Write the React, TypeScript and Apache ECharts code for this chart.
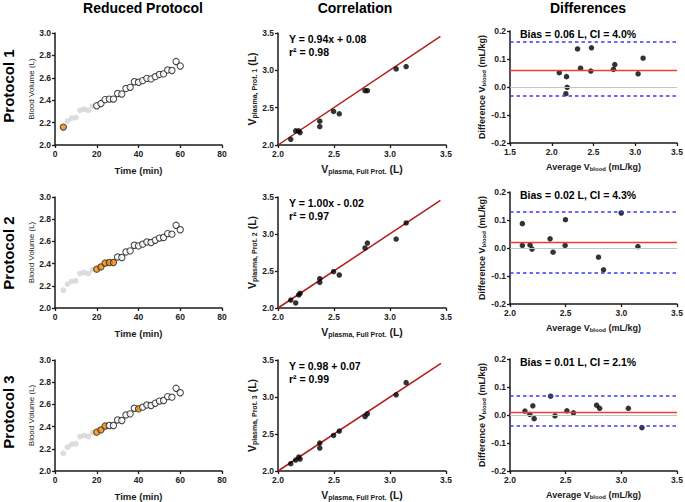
import React, { useEffect, useRef } from "react";
import * as echarts from "echarts";

// ---------- data ----------
const times = [4, 6, 8, 10, 12, 14, 16, 18, 20, 22, 24, 26, 28, 30, 32, 34, 36, 38, 40, 42, 44, 46, 48, 50, 52, 54, 56, 58, 60];
const bloodVolume = [2.16, 2.215, 2.24, 2.245, 2.31, 2.32, 2.31, 2.345, 2.35, 2.37, 2.405, 2.41, 2.41, 2.46, 2.455, 2.505, 2.515, 2.565, 2.56, 2.575, 2.595, 2.59, 2.61, 2.63, 2.635, 2.67, 2.665, 2.745, 2.705];
const steadyStateStart = 20;
const selectedTimesP1 = [4];
const selectedTimesP2 = [20, 22, 24, 26, 28];
const selectedTimesP3 = [20, 22, 24, 40];

const fullProtVolume = [2.114, 2.158, 2.185, 2.197, 2.373, 2.373, 2.496, 2.547, 2.777, 2.798, 3.055, 3.144];
const prot1Volume = [2.076, 2.189, 2.189, 2.166, 2.319, 2.247, 2.449, 2.418, 2.727, 2.727, 3.019, 3.051];
const prot2Volume = [2.108, 2.068, 2.176, 2.198, 2.396, 2.347, 2.491, 2.446, 2.811, 2.878, 2.932, 3.149];
const prot3Volume = [2.099, 2.148, 2.189, 2.162, 2.377, 2.31, 2.48, 2.539, 2.736, 2.772, 3.03, 3.194];
const fitLineP1 = [[2.0, 2.0], [3.45, 3.455]];
const fitLineP2 = [[2.0, 2.0], [3.45, 3.455]];
const fitLineP3 = [[2.0, 2.0], [3.455, 3.455]];
const eqLabels = ["Y = 0.94x + 0.08", "Y = 1.00x - 0.02", "Y = 0.98 + 0.07"];
const r2Labels = ["r\u00b2 = 0.98", "r\u00b2 = 0.97", "r\u00b2 = 0.99"];

const baAvgP1 = [2.09, 2.177, 2.185, 2.169, 2.309, 2.345, 2.476, 2.468, 2.739, 2.755, 3.034, 3.094];
const baDiffP1 = [0.051, 0.037, -0.001, -0.024, 0.136, 0.067, 0.14, 0.057, 0.063, 0.08, 0.047, 0.103];
const baAvgP2 = [2.111, 2.111, 2.18, 2.198, 2.36, 2.387, 2.498, 2.495, 2.795, 2.84, 2.999, 3.149];
const baDiffP2 = [0.087, 0.009, 0.011, -0.004, 0.033, -0.015, 0.101, 0.009, -0.033, -0.078, 0.125, 0.005];
const baAvgP3 = [2.134, 2.178, 2.205, 2.217, 2.365, 2.404, 2.511, 2.57, 2.778, 2.805, 3.063, 3.185];
const baDiffP3 = [0.014, 0.002, 0.033, -0.013, 0.067, -0.003, 0.015, 0.008, 0.035, 0.024, 0.024, -0.045];
const biasValues = [0.063, 0.022, 0.015];
const upperLimits = [0.157, 0.134, 0.067];
const lowerLimits = [-0.032, -0.093, -0.042];
const biasLabels = ["Bias = 0.06 L, CI = 4.0%", "Bias = 0.02 L, CI = 4.3%", "Bias = 0.01 L, CI = 2.1%"];

const columnTitles = ["Reduced Protocol", "Correlation", "Differences"];
const rowTitles = ["Protocol 1", "Protocol 2", "Protocol 3"];
const protLabels = ["Prot. 1", "Prot. 2", "Prot. 3"];

// ---------- layout / style ----------
const FONT = '"Liberation Sans", Arial, Helvetica, sans-serif';
const INK = "#1a1a1a";
const rowTops = [33, 197, 360];
const rowHeights = [112, 111, 111];
const baRowTops = [31, 192, 359];
const baRowHeights = [112, 112, 112];
const baXMin = [1.5, 2.0, 2.0];
const rowLabelY = [86, 253, 412];

const selectedSets = [selectedTimesP1, selectedTimesP2, selectedTimesP3];
const protSets = [prot1Volume, prot2Volume, prot3Volume];
const fitSets = [fitLineP1, fitLineP2, fitLineP3];
const baAvgSets = [baAvgP1, baAvgP2, baAvgP3];
const baDiffSets = [baDiffP1, baDiffP2, baDiffP3];

const fmt1 = (v: number) => (Math.abs(v) < 1e-9 ? 0 : v).toFixed(1);

function axis(gridIndex: number, min: number, max: number, interval: number, name: string, nameGap: number, nameTextStyle: any, labelFmt?: (v: number) => string) {
  return {
    type: "value",
    gridIndex,
    min,
    max,
    interval,
    name,
    nameLocation: "middle",
    nameGap,
    nameTextStyle,
    axisLine: { show: true, onZero: false, lineStyle: { color: INK, width: 1.5 } },
    axisTick: { show: true, length: 3, inside: false, lineStyle: { color: INK, width: 1.3 } },
    splitLine: { show: false },
    axisLabel: {
      show: true,
      margin: 4,
      fontSize: 8.5,
      fontWeight: "bold",
      fontFamily: FONT,
      color: "#222",
      formatter: labelFmt,
    },
  };
}

const subRich = (main: number, sub: number, pad: number) => ({
  b: { fontSize: main, fontWeight: "bold", fontFamily: FONT, color: INK },
  s: { fontSize: sub, fontWeight: "bold", fontFamily: FONT, color: INK, padding: [pad, 0, 0, 0] },
});

function buildOption() {
  const grid: any[] = [];
  const xAxis: any[] = [];
  const yAxis: any[] = [];
  const series: any[] = [];
  const graphic: any[] = [];

  for (let r = 0; r < 3; r++) {
    // ---- left: reduced protocol time course
    const gL = r * 3;
    grid.push({ left: 55, top: rowTops[r], width: 167, height: rowHeights[r], containLabel: false, outerBoundsMode: "none" });
    xAxis.push(axis(gL, 0, 80, 20, "Time (min)", 20, { fontSize: 9.5, fontWeight: "bold", fontFamily: FONT, color: INK }, (v) => String(v)));
    yAxis.push(axis(gL, 2.0, 3.0, 0.2, "Blood Volume (L)", 20, { fontSize: 8, fontFamily: FONT, color: INK }, fmt1));
    const sel = selectedSets[r];
    series.push({
      type: "scatter",
      xAxisIndex: gL,
      yAxisIndex: gL,
      z: 3,
      data: times.map((t, i) => {
        if (sel.includes(t)) {
          return { value: [t, bloodVolume[i]], symbolSize: 6.3, itemStyle: { color: "#f28705", borderColor: "#222", borderWidth: 1 } };
        }
        if (t < steadyStateStart) {
          return { value: [t, bloodVolume[i]], symbolSize: 5.8, itemStyle: { color: "#d4d4d4", borderWidth: 0 } };
        }
        return { value: [t, bloodVolume[i]], symbolSize: 6.3, itemStyle: { color: "#ffffff", borderColor: "#111", borderWidth: 1 } };
      }),
    });

    // ---- middle: correlation
    const gM = r * 3 + 1;
    grid.push({ left: 278, top: rowTops[r], width: 168, height: rowHeights[r], containLabel: false, outerBoundsMode: "none" });
    xAxis.push(axis(gM, 2.0, 3.5, 0.5, "{b|V}{s|plasma, Full Prot.}{b| (L)}", 18, { rich: subRich(10.5, 7, 5) }, fmt1));
    yAxis.push(axis(gM, 2.0, 3.5, 0.5, `{b|V}{s|plasma, ${protLabels[r]}}{b| (L)}`, 19, { rich: subRich(10.5, 7, 5) }, fmt1));
    series.push({
      type: "line",
      xAxisIndex: gM,
      yAxisIndex: gM,
      data: fitSets[r],
      symbol: "none",
      z: 2,
      lineStyle: { color: "#b01c1c", width: 1.5 },
    });
    series.push({
      type: "scatter",
      xAxisIndex: gM,
      yAxisIndex: gM,
      z: 3,
      symbolSize: 5.5,
      itemStyle: { color: "#000" },
      data: fullProtVolume.map((x, i) => [x, protSets[r][i]]),
    });

    // ---- right: Bland-Altman
    const gR = r * 3 + 2;
    grid.push({ left: 510, top: baRowTops[r], width: 167, height: baRowHeights[r], containLabel: false, outerBoundsMode: "none" });
    xAxis.push(axis(gR, baXMin[r], 3.5, 0.5, "{b|Average V}{s|blood}{b| (mL/kg)}", 19, { rich: subRich(9, 6, 4) }, fmt1));
    yAxis.push(axis(gR, -0.2, 0.2, 0.1, "{b|Difference V}{s|blood}{b| (mL/kg)}", 14, { rich: subRich(9, 6, 4) }, fmt1));
    series.push({
      type: "scatter",
      xAxisIndex: gR,
      yAxisIndex: gR,
      z: 1,
      data: [],
      markLine: {
        silent: true,
        symbol: ["none", "none"],
        label: { show: false },
        animation: false,
        data: [
          { yAxis: 0, lineStyle: { color: "#c4c4c4", width: 1.2, type: "solid" } },
          { yAxis: biasValues[r], lineStyle: { color: "#ee3a3a", width: 1.3, type: "solid" } },
          { yAxis: upperLimits[r], lineStyle: { color: "#3a3aff", width: 1.5, type: [3.5, 3] } },
          { yAxis: lowerLimits[r], lineStyle: { color: "#3a3aff", width: 1.5, type: [3.5, 3] } },
        ],
      },
    });
    series.push({
      type: "scatter",
      xAxisIndex: gR,
      yAxisIndex: gR,
      z: 3,
      symbolSize: 5.5,
      itemStyle: { color: "#000" },
      data: baAvgSets[r].map((x, i) => [x, baDiffSets[r][i]]),
    });

    // ---- texts
    graphic.push({
      type: "text",
      x: 8,
      y: rowLabelY[r],
      rotation: Math.PI / 2,
      style: { text: rowTitles[r], fontSize: 15, fontWeight: "bold", fontFamily: FONT, fill: "#000", textAlign: "center", textVerticalAlign: "middle", align: "center", verticalAlign: "middle" },
    });
    graphic.push({
      type: "text",
      x: 289,
      y: rowTops[r] + 6,
      style: { text: eqLabels[r], fontSize: 10.5, fontWeight: "bold", fontFamily: FONT, fill: "#000", textAlign: "left", textVerticalAlign: "middle", align: "left", verticalAlign: "middle" },
    });
    graphic.push({
      type: "text",
      x: 289,
      y: rowTops[r] + 19,
      style: { text: r2Labels[r], fontSize: 10.5, fontWeight: "bold", fontFamily: FONT, fill: "#000", textAlign: "left", textVerticalAlign: "middle", align: "left", verticalAlign: "middle" },
    });
    graphic.push({
      type: "text",
      x: 520,
      y: baRowTops[r] + 3,
      style: { text: biasLabels[r], fontSize: 10.5, fontWeight: "bold", fontFamily: FONT, fill: "#000", textAlign: "left", textVerticalAlign: "middle", align: "left", verticalAlign: "middle" },
    });
  }

  const titleX = [143, 355, 588];
  columnTitles.forEach((t, i) => {
    graphic.push({
      type: "text",
      x: titleX[i],
      y: 8,
      style: { text: t, fontSize: 14, fontWeight: "bold", fontFamily: FONT, fill: "#000", textAlign: "center", textVerticalAlign: "middle", align: "center", verticalAlign: "middle" },
    });
  });

  return {
    animation: false,
    backgroundColor: "#fff",
    textStyle: { fontFamily: FONT },
    grid,
    xAxis,
    yAxis,
    series,
    graphic,
  };
}

export default function App() {
  const ref = useRef<HTMLDivElement>(null);
  useEffect(() => {
    if (!ref.current) return;
    const chart = echarts.init(ref.current, null, { renderer: "svg" });
    chart.setOption(buildOption() as any);
    return () => chart.dispose();
  }, []);
  return <div ref={ref} style={{ position: "absolute", left: 0, top: 0, width: 685, height: 502, background: "#fff" }} />;
}
